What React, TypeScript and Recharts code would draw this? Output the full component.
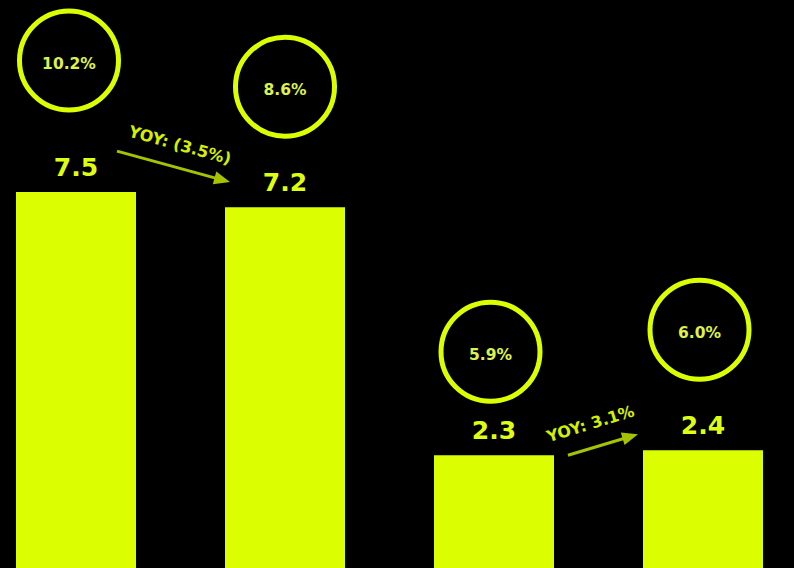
import React from 'react';
import { BarChart, Bar, XAxis, YAxis, LabelList } from 'recharts';

const categories = ['A', 'B', 'C', 'D'];
const values = [7.5, 7.2, 2.3, 2.4];
const rates = ['10.2%', '8.6%', '5.9%', '6.0%'];
const yoyLabels = ['YOY: (3.5%)', '', 'YOY: 3.1%', ''];

const data = categories.map((name, i) => ({
  name,
  value: values[i],
  rate: rates[i],
  yoy: yoyLabels[i],
}));

// annotation placement relative to each bar's top-centre
const circleOffsets = [
  { dx: -7, dy: -131.5 },
  { dx: 0, dy: -120.5 },
  { dx: -3.5, dy: -103.5 },
  { dx: -3.5, dy: -120.5 },
];
const arrowOffsets = [
  { x1: 41, y1: -41, x2: 154, y2: -10, tx: 104, ty: -47, angle: 15.5 },
  null,
  { x1: 74, y1: 0, x2: 144, y2: -21, tx: 96.5, ty: -31.5, angle: -17 },
  null,
];

const LIME = '#DCFF00';
const FONT = '"DejaVu Sans", sans-serif';

const CircleLabel = (props: any) => {
  const { x, y, width, index, value } = props;
  const o = circleOffsets[index];
  const cx = x + width / 2 + o.dx;
  const cy = y + o.dy;
  return (
    <g>
      <circle cx={cx} cy={cy} r={49.5} fill="none" stroke={LIME} strokeWidth={5} />
      <text
        x={cx}
        y={cy + 3}
        textAnchor="middle"
        dominantBaseline="central"
        fill="#DDF24A"
        fontFamily={FONT}
        fontWeight="bold"
        fontSize={15.5}
      >
        {value}
      </text>
    </g>
  );
};

const YoyLabel = (props: any) => {
  const { x, y, width, index, value } = props;
  const a = arrowOffsets[index];
  if (!a || !value) return null;
  const cx = x + width / 2;
  const x1 = cx + a.x1, y1 = y + a.y1, x2 = cx + a.x2, y2 = y + a.y2;
  const len = Math.hypot(x2 - x1, y2 - y1);
  const ux = (x2 - x1) / len, uy = (y2 - y1) / len;
  const head = 16, half = 6.5;
  const bx = x2 - ux * head, by = y2 - uy * head;
  const pts = `${x2},${y2} ${bx - uy * half},${by + ux * half} ${bx + uy * half},${by - ux * half}`;
  const tx = cx + a.tx, ty = y + a.ty;
  return (
    <g>
      <line x1={x1} y1={y1} x2={bx + ux * 2} y2={by + uy * 2} stroke="#A6C200" strokeWidth={3} />
      <polygon points={pts} fill="#A6C200" />
      <text
        x={tx}
        y={ty}
        textAnchor="middle"
        dominantBaseline="central"
        transform={`rotate(${a.angle} ${tx} ${ty})`}
        fill="#D4F000"
        fontFamily={FONT}
        fontWeight="bold"
        fontSize={16}
      >
        {value}
      </text>
    </g>
  );
};

export default function App() {
  return (
    <div
      style={{
        position: 'fixed',
        top: 0,
        left: 0,
        width: 794,
        height: 568,
        overflow: 'hidden',
        background: '#000',
      }}
    >
      <div style={{ position: 'absolute', left: -29.5, top: 0 }}>
        <BarChart
          width={836}
          height={580}
          data={data}
          margin={{ top: 15, right: 0, bottom: 8.4, left: 0 }}
        >
          <XAxis dataKey="name" hide />
          <YAxis hide domain={[0, 11]} />
          <Bar dataKey="value" fill={LIME} barSize={120} isAnimationActive={false}>
            <LabelList
              dataKey="value"
              position="top"
              offset={16}
              fill="#DFFF10"
              fontFamily={FONT}
              fontWeight="bold"
              fontSize={25}
              formatter={(v: any) => Number(v).toFixed(1)}
            />
            <LabelList dataKey="rate" content={CircleLabel} />
            <LabelList dataKey="yoy" content={YoyLabel} />
          </Bar>
        </BarChart>
      </div>
    </div>
  );
}
